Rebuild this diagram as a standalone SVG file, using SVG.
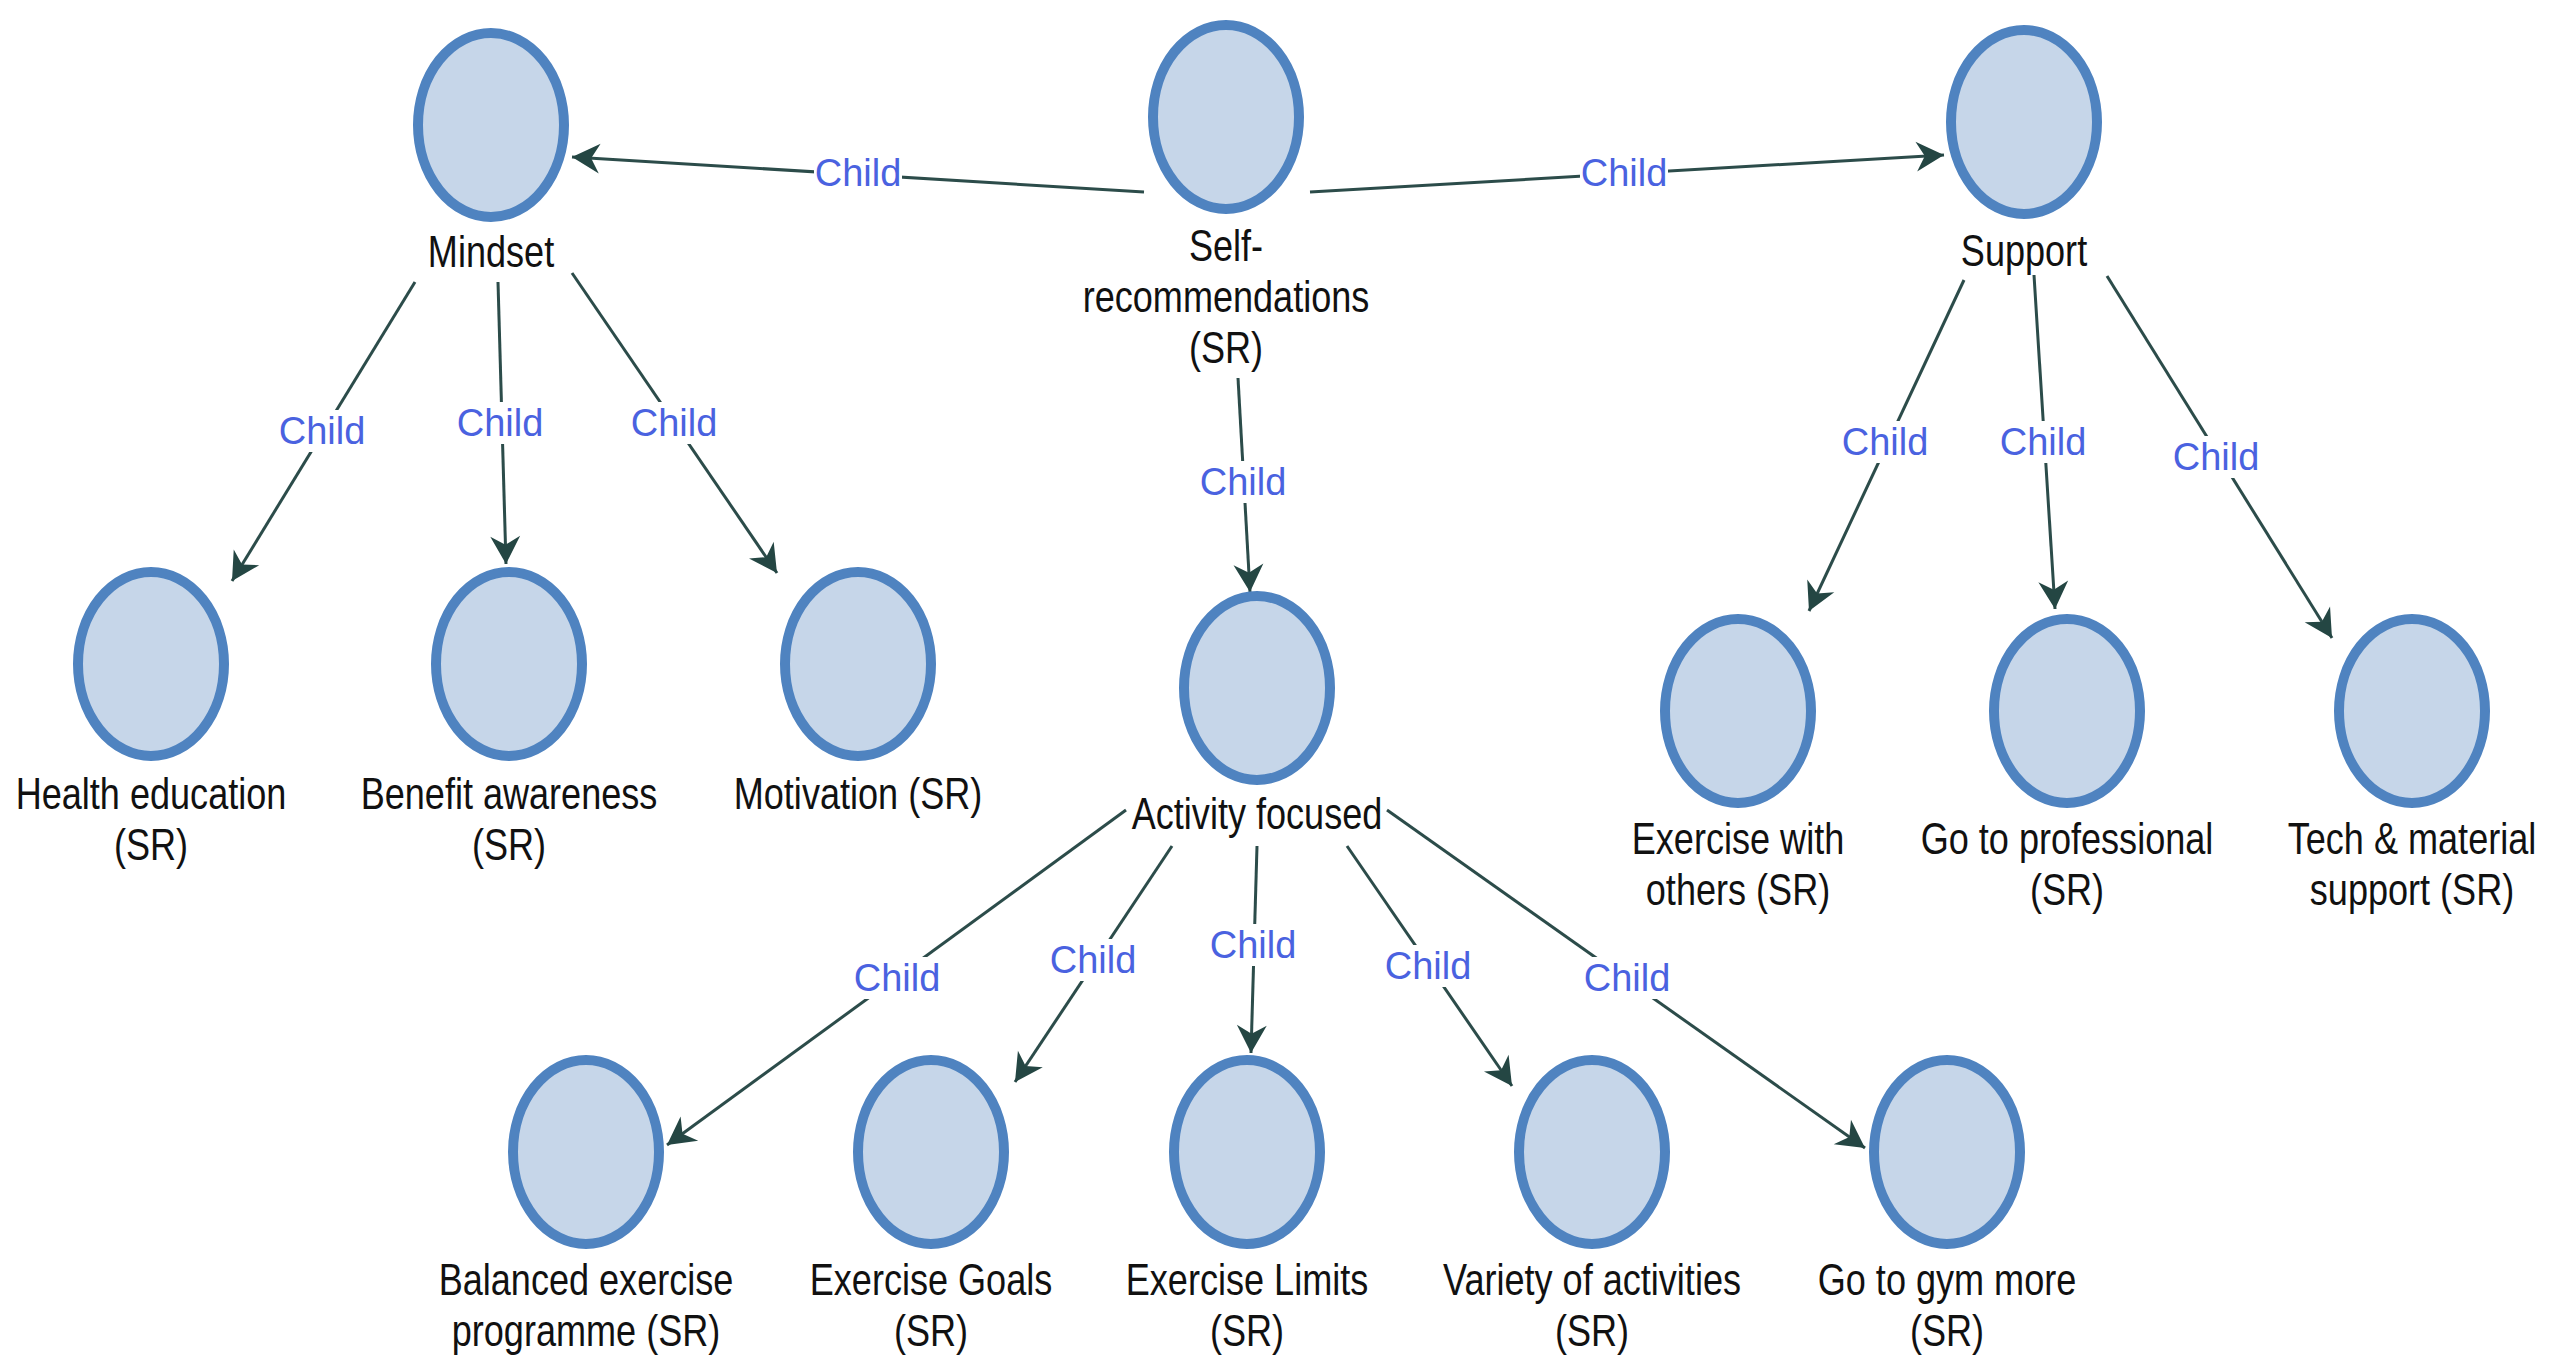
<svg xmlns="http://www.w3.org/2000/svg" width="2552" height="1360" viewBox="0 0 2552 1360">
<defs>
<style>
.node ellipse{fill:#c6d6e9;stroke:#4f83c0;stroke-width:10}
.lbl{font-family:"Liberation Sans",Arial,sans-serif;font-size:44px;fill:#111;text-anchor:middle}
.edge{stroke:#2c4c4a;stroke-width:3;fill:none;marker-end:url(#arr)}
.cl{font-family:"Liberation Sans",Arial,sans-serif;font-size:38px;fill:#4a62e0;text-anchor:middle}
.bg{fill:#fff}
</style>
<marker id="arr" markerUnits="userSpaceOnUse" markerWidth="32" markerHeight="32" viewBox="-28 -15 30 30" refX="0" refY="0" orient="auto">
<path d="M0,0 L-26,-14 L-18,0 L-26,14 Z" fill="#244643"/>
</marker>
</defs>
<rect width="2552" height="1360" fill="#fff"/>
<g id="connectors">
<line class="edge" x1="1144" y1="192" x2="572" y2="157"/>
<line class="edge" x1="1310" y1="192" x2="1944" y2="155"/>
<line class="edge" x1="415" y1="282" x2="232" y2="581"/>
<line class="edge" x1="498" y1="282" x2="506" y2="564"/>
<line class="edge" x1="572" y1="273" x2="777" y2="573"/>
<line class="edge" x1="1238" y1="378" x2="1250" y2="592"/>
<line class="edge" x1="1964" y1="280" x2="1809" y2="611"/>
<line class="edge" x1="2034" y1="275" x2="2055" y2="609"/>
<line class="edge" x1="2107" y1="276" x2="2332" y2="638"/>
<line class="edge" x1="1126" y1="810" x2="667" y2="1145"/>
<line class="edge" x1="1172" y1="846" x2="1015" y2="1082"/>
<line class="edge" x1="1257" y1="846" x2="1251" y2="1053"/>
<line class="edge" x1="1347" y1="846" x2="1512" y2="1086"/>
<line class="edge" x1="1387" y1="810" x2="1865" y2="1148"/>
<g id="edge-labels">
<rect class="bg" x="814" y="152" width="88" height="42"/><text class="cl" x="858" y="186">Child</text>
<rect class="bg" x="1580" y="152" width="88" height="42"/><text class="cl" x="1624" y="186">Child</text>
<rect class="bg" x="278" y="410" width="88" height="42"/><text class="cl" x="322" y="444">Child</text>
<rect class="bg" x="456" y="402" width="88" height="42"/><text class="cl" x="500" y="436">Child</text>
<rect class="bg" x="630" y="402" width="88" height="42"/><text class="cl" x="674" y="436">Child</text>
<rect class="bg" x="1199" y="461" width="88" height="42"/><text class="cl" x="1243" y="495">Child</text>
<rect class="bg" x="1841" y="421" width="88" height="42"/><text class="cl" x="1885" y="455">Child</text>
<rect class="bg" x="1999" y="421" width="88" height="42"/><text class="cl" x="2043" y="455">Child</text>
<rect class="bg" x="2172" y="436" width="88" height="42"/><text class="cl" x="2216" y="470">Child</text>
<rect class="bg" x="853" y="957" width="88" height="42"/><text class="cl" x="897" y="991">Child</text>
<rect class="bg" x="1049" y="939" width="88" height="42"/><text class="cl" x="1093" y="973">Child</text>
<rect class="bg" x="1209" y="924" width="88" height="42"/><text class="cl" x="1253" y="958">Child</text>
<rect class="bg" x="1384" y="945" width="88" height="42"/><text class="cl" x="1428" y="979">Child</text>
<rect class="bg" x="1583" y="957" width="88" height="42"/><text class="cl" x="1627" y="991">Child</text>
</g>
</g>
<g id="n-mindset" class="node"><ellipse cx="491" cy="125" rx="73" ry="92"/><text class="lbl" transform="translate(491 267) scale(0.82 1)">Mindset</text></g>
<g id="n-self" class="node"><ellipse cx="1226" cy="117" rx="73" ry="92"/><text class="lbl" transform="translate(1226 261) scale(0.82 1)"><tspan x="0" y="0">Self-</tspan><tspan x="0" y="51">recommendations</tspan><tspan x="0" y="102">(SR)</tspan></text></g>
<g id="n-support" class="node"><ellipse cx="2024" cy="122" rx="73" ry="92"/><text class="lbl" transform="translate(2024 266) scale(0.82 1)">Support</text></g>
<g id="n-health" class="node"><ellipse cx="151" cy="664" rx="73" ry="92"/><text class="lbl" transform="translate(151 809) scale(0.82 1)"><tspan x="0" y="0">Health education</tspan><tspan x="0" y="51">(SR)</tspan></text></g>
<g id="n-benefit" class="node"><ellipse cx="509" cy="664" rx="73" ry="92"/><text class="lbl" transform="translate(509 809) scale(0.82 1)"><tspan x="0" y="0">Benefit awareness</tspan><tspan x="0" y="51">(SR)</tspan></text></g>
<g id="n-motivation" class="node"><ellipse cx="858" cy="664" rx="73" ry="92"/><text class="lbl" transform="translate(858 809) scale(0.82 1)">Motivation (SR)</text></g>
<g id="n-activity" class="node"><ellipse cx="1257" cy="688" rx="73" ry="92"/><text class="lbl" transform="translate(1257 829) scale(0.82 1)">Activity focused</text></g>
<g id="n-others" class="node"><ellipse cx="1738" cy="711" rx="73" ry="92"/><text class="lbl" transform="translate(1738 854) scale(0.82 1)"><tspan x="0" y="0">Exercise with</tspan><tspan x="0" y="51">others (SR)</tspan></text></g>
<g id="n-professional" class="node"><ellipse cx="2067" cy="711" rx="73" ry="92"/><text class="lbl" transform="translate(2067 854) scale(0.82 1)"><tspan x="0" y="0">Go to professional</tspan><tspan x="0" y="51">(SR)</tspan></text></g>
<g id="n-tech" class="node"><ellipse cx="2412" cy="711" rx="73" ry="92"/><text class="lbl" transform="translate(2412 854) scale(0.82 1)"><tspan x="0" y="0">Tech &amp; material</tspan><tspan x="0" y="51">support (SR)</tspan></text></g>
<g id="n-balanced" class="node"><ellipse cx="586" cy="1152" rx="73" ry="92"/><text class="lbl" transform="translate(586 1295) scale(0.82 1)"><tspan x="0" y="0">Balanced exercise</tspan><tspan x="0" y="51">programme (SR)</tspan></text></g>
<g id="n-goals" class="node"><ellipse cx="931" cy="1152" rx="73" ry="92"/><text class="lbl" transform="translate(931 1295) scale(0.82 1)"><tspan x="0" y="0">Exercise Goals</tspan><tspan x="0" y="51">(SR)</tspan></text></g>
<g id="n-limits" class="node"><ellipse cx="1247" cy="1152" rx="73" ry="92"/><text class="lbl" transform="translate(1247 1295) scale(0.82 1)"><tspan x="0" y="0">Exercise Limits</tspan><tspan x="0" y="51">(SR)</tspan></text></g>
<g id="n-variety" class="node"><ellipse cx="1592" cy="1152" rx="73" ry="92"/><text class="lbl" transform="translate(1592 1295) scale(0.82 1)"><tspan x="0" y="0">Variety of activities</tspan><tspan x="0" y="51">(SR)</tspan></text></g>
<g id="n-gym" class="node"><ellipse cx="1947" cy="1152" rx="73" ry="92"/><text class="lbl" transform="translate(1947 1295) scale(0.82 1)"><tspan x="0" y="0">Go to gym more</tspan><tspan x="0" y="51">(SR)</tspan></text></g>
</svg>
